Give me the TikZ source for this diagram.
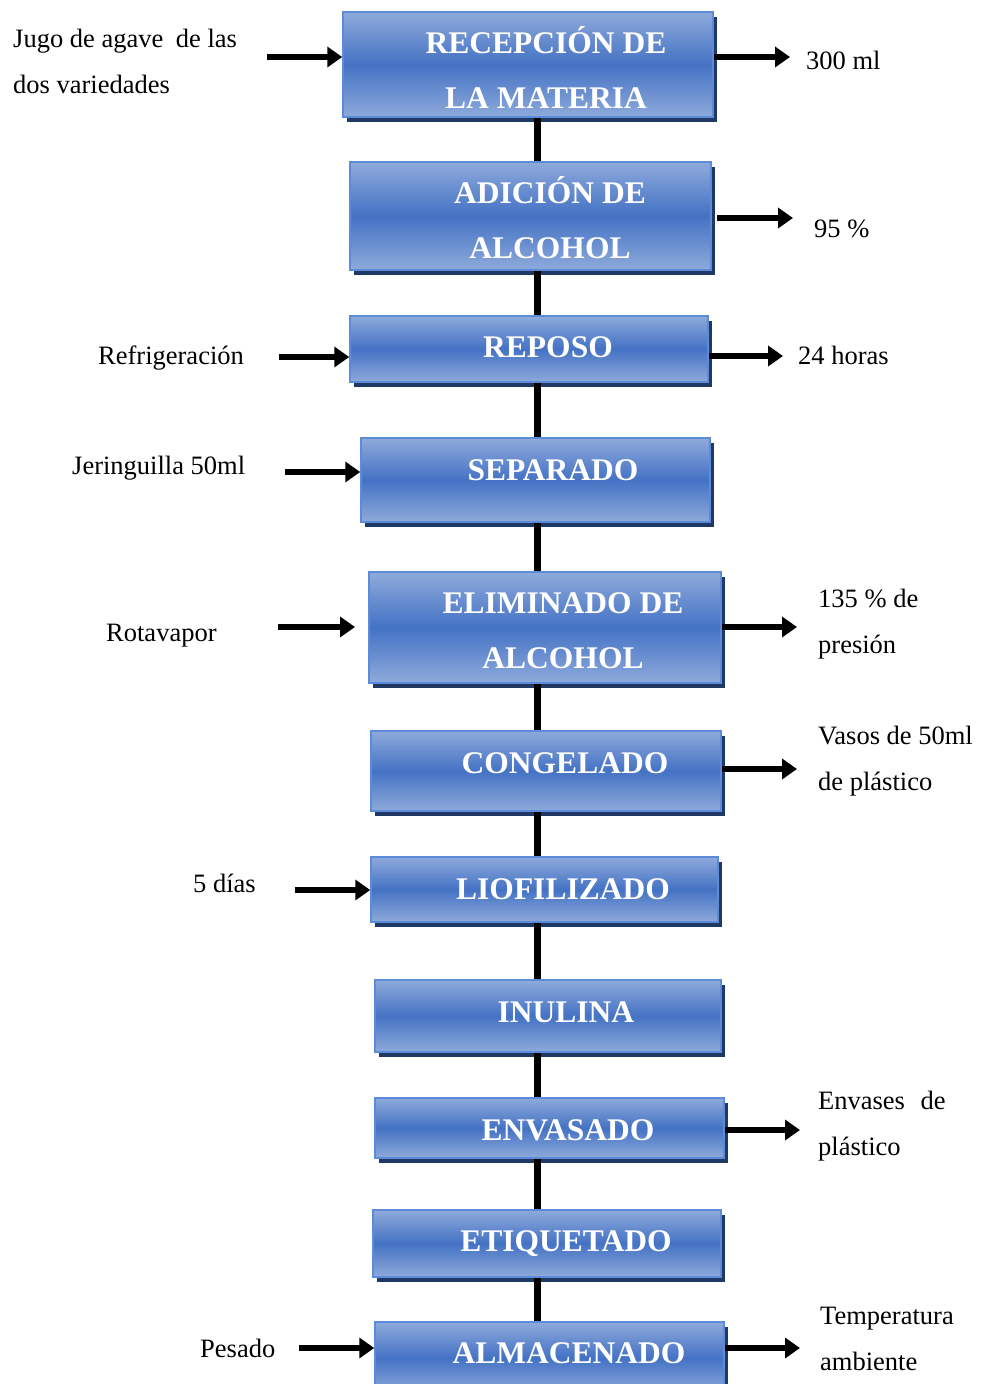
\documentclass[tikz,border=0pt]{standalone}
\usepackage{fontspec}
\setmainfont{Liberation Serif}
\usetikzlibrary{arrows.meta,shadows}

\definecolor{boxlight}{HTML}{8EAADB}
\definecolor{boxmid}{HTML}{4472C4}
\definecolor{boxedge}{HTML}{5B8BD9}
\definecolor{boxshadow}{HTML}{1F3864}

\begin{document}
\begin{tikzpicture}[x=1pt, y=-1pt,
	box/.style = {rectangle, draw=boxedge, line width=1.5pt, inner sep=0pt,
		top color=boxlight, bottom color=boxlight, middle color=boxmid,
		drop shadow={shadow xshift=4pt, shadow yshift=-5pt, fill=boxshadow, opacity=1}},
	stage/.style = {text=white, font=\fontsize{31.5}{55}\selectfont\bfseries,
		anchor=base, align=center, inner sep=0pt},
	note/.style = {font=\fontsize{26.5}{46}\selectfont, anchor=base west,
		align=left, inner sep=0pt},
	flow/.style = {line width=6pt, -{Triangle[length=15pt,width=20pt]}},
	link/.style = {line width=7pt}]

	\useasboundingbox (0,0) rectangle (980,1384);

	% Process boxes
	\node (rec) [box, minimum width=370pt, minimum height=105pt] at (528,64.5) {};
	\node (adi) [box, minimum width=361pt, minimum height=108pt] at (530.5,216) {};
	\node (rep) [box, minimum width=358pt, minimum height=66pt] at (529,349) {};
	\node (sep) [box, minimum width=349pt, minimum height=84pt] at (535.5,480) {};
	\node (eli) [box, minimum width=352pt, minimum height=111pt] at (545,627.5) {};
	\node (con) [box, minimum width=350pt, minimum height=80pt] at (546,771) {};
	\node (lio) [box, minimum width=347pt, minimum height=65pt] at (544.5,889.5) {};
	\node (inu) [box, minimum width=346pt, minimum height=72pt] at (548,1016) {};
	\node (env) [box, minimum width=349pt, minimum height=60pt] at (549.5,1128) {};
	\node (eti) [box, minimum width=348pt, minimum height=67pt] at (547,1243.5) {};
	\node (alm) [box, minimum width=349pt, minimum height=72pt] at (549.5,1358) {};

	% base of a two-line node is its last line
	\node (rec-t) [stage] at (546,108) {RECEPCIÓN DE\\LA MATERIA};
	\node (adi-t) [stage] at (550,258) {ADICIÓN DE\\ALCOHOL};
	\node (rep-t) [stage] at (548,357) {REPOSO};
	\node (sep-t) [stage] at (553,480) {SEPARADO};
	\node (eli-t) [stage] at (563,668) {ELIMINADO DE\\ALCOHOL};
	\node (con-t) [stage] at (565,773) {CONGELADO};
	\node (lio-t) [stage] at (563,899) {LIOFILIZADO};
	\node (inu-t) [stage] at (566,1022) {INULINA};
	\node (env-t) [stage] at (568,1140) {ENVASADO};
	\node (eti-t) [stage] at (566,1251) {ETIQUETADO};
	\node (alm-t) [stage] at (569,1363) {ALMACENADO};

	% Main line
	\coordinate (spine) at (537,0);
	\draw[link] (rec.south -| spine) -- (adi.north -| spine);
	\draw[link] (adi.south -| spine) -- (rep.north -| spine);
	\draw[link] (rep.south -| spine) -- (sep.north -| spine);
	\draw[link] (sep.south -| spine) -- (eli.north -| spine);
	\draw[link] (eli.south -| spine) -- (con.north -| spine);
	\draw[link] (con.south -| spine) -- (lio.north -| spine);
	\draw[link] (lio.south -| spine) -- (inu.north -| spine);
	\draw[link] (inu.south -| spine) -- (env.north -| spine);
	\draw[link] (env.south -| spine) -- (eti.north -| spine);
	\draw[link] (eti.south -| spine) -- (alm.north -| spine);

	% Inputs
	\node (jugo) [note] at (13,93) {Jugo de agave\hspace{6pt} de las\\dos variedades};
	\node (refri) [note] at (98,364) {Refrigeración};
	\node (jer) [note] at (72,474) {Jeringuilla 50ml};
	\node (rota) [note] at (106,641) {Rotavapor};
	\node (dias) [note] at (193,892) {5 días};
	\node (pes) [note] at (200,1357) {Pesado};

	\coordinate (in1) at (267,57);
	\coordinate (in2) at (279,357);
	\coordinate (in3) at (285,472);
	\coordinate (in4) at (278,627);
	\coordinate (in4e) at (355,627);
	\coordinate (in5) at (295,890);
	\coordinate (in6) at (299,1348);

	\draw[flow] (in1) -- (in1 -| rec.west);
	\draw[flow] (in2) -- (in2 -| rep.west);
	\draw[flow] (in3) -- (in3 -| sep.west);
	\draw[flow] (in4) -- (in4e);
	\draw[flow] (in5) -- (in5 -| lio.west);
	\draw[flow] (in6) -- (in6 -| alm.west);

	% Outputs
	\node (ml) [note] at (806,69) {300 ml};
	\node (pct) [note] at (814,237) {95 \%};
	\node (hrs) [note] at (798,364) {24 horas};
	\node (pres) [note] at (818,653) {135 \% de\\presión};
	\node (vas) [note] at (818,790) {Vasos de 50ml\\de plástico};
	\node (envs) [note] at (818,1155) {Envases\hspace{9pt} de\\plástico};
	\node (temp) [note] at (820,1370) {Temperatura\\ambiente};

	\coordinate (out1) at (790,57);
	\coordinate (out2) at (793,218);
	\coordinate (out2s) at (717,218);
	\coordinate (out3) at (783,356);
	\coordinate (out4) at (797,627);
	\coordinate (out5) at (797,769);
	\coordinate (out6) at (800,1130);
	\coordinate (out7) at (800,1348);

	\draw[flow] (out1 -| rec.east) -- (out1);
	\draw[flow] (out2s) -- (out2);
	\draw[flow] (out3 -| rep.east) -- (out3);
	\draw[flow] (out4 -| eli.east) -- (out4);
	\draw[flow] (out5 -| con.east) -- (out5);
	\draw[flow] (out6 -| env.east) -- (out6);
	\draw[flow] (out7 -| alm.east) -- (out7);
\end{tikzpicture}
\end{document}
